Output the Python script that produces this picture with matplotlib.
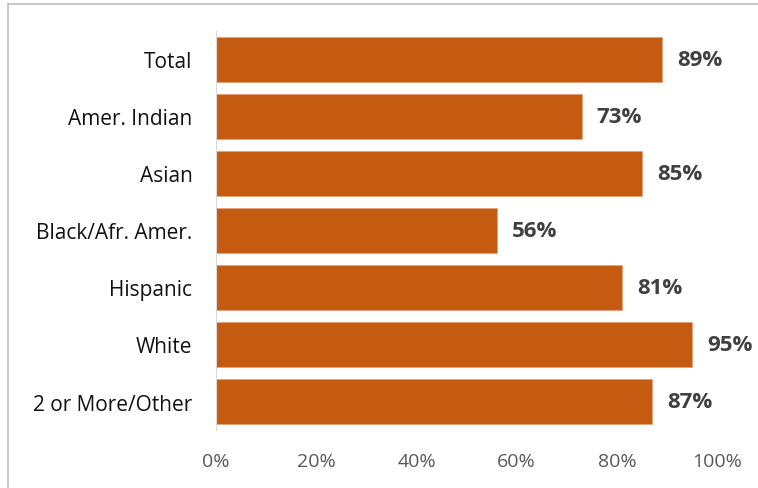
import matplotlib
matplotlib.use('Agg')
import matplotlib.pyplot as plt
from matplotlib.lines import Line2D

categories = ['Total', 'Amer. Indian', 'Asian', 'Black/Afr. Amer.', 'Hispanic', 'White', '2 or More/Other']
values = [89, 73, 85, 56, 81, 95, 87]
ticks = [0, 20, 40, 60, 80, 100]

plt.rcParams['font.family'] = ['Open Sans', 'DejaVu Sans']

fig = plt.figure(figsize=(7.58, 4.89), dpi=100)
ax = fig.add_axes([0.285, 0.1186, 0.661, 0.816])

y = list(range(len(categories)))
ax.barh(y, values, height=0.79, color='#C55A11', edgecolor='#E9A27A', linewidth=0.6)
for yi, v in zip(y, values):
    ax.text(v + 3.0, yi, f'{v}%', va='center', ha='left', fontsize=16,
            fontweight='bold', color='#404040')

ax.set_xlim(0, 100)
ax.set_ylim(len(categories) - 0.5, -0.5)
ax.set_yticks(y)
ax.set_yticklabels(categories, fontsize=15, color='#111111')
ax.set_xticks(ticks)
ax.set_xticklabels([f'{t}%' for t in ticks], fontsize=14, color='#595959')
ax.tick_params(axis='both', length=0)
ax.tick_params(axis='y', pad=17)
ax.tick_params(axis='x', pad=16)
for s in ['top', 'right', 'bottom']:
    ax.spines[s].set_visible(False)
ax.spines['left'].set_color('#D9D9D9')

# frame lines at top and left of the picture
fig.add_artist(Line2D([8 / 758, 1.0], [1 - 5 / 489, 1 - 5 / 489], transform=fig.transFigure,
                      color='#BFBFBF', linewidth=1.2))
fig.add_artist(Line2D([8 / 758, 8 / 758], [0.0, 1 - 5 / 489], transform=fig.transFigure,
                      color='#BFBFBF', linewidth=1.2))

fig.savefig('out.png', dpi=100)
